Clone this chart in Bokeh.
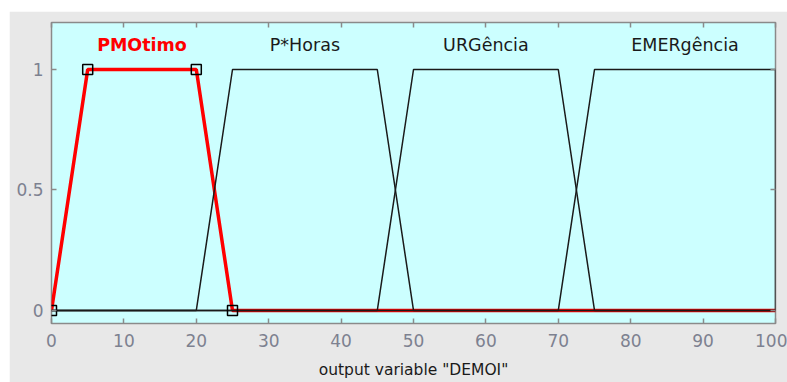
from bokeh.plotting import figure
from bokeh.models import ColumnDataSource, LinearAxis, Range1d, FixedTicker
from bokeh.core.properties import value
from bokeh.embed import file_html
from bokeh.resources import INLINE

# Membership functions of the output variable (trapezoids a, b, c, d)
mf_names = ["PMOtimo", "P*Horas", "URGência", "EMERgência"]
mf_a = [0, 20, 45, 70]
mf_b = [5, 25, 50, 75]
mf_c = [20, 45, 70, 100]
mf_d = [25, 50, 75, 100]
selected = 0  # highlighted function

x_ticks = [0, 10, 20, 30, 40, 50, 60, 70, 80, 90, 100]
y_ticks = [0, 0.5, 1]
x_min, x_max = 0, 100

FONT = "DejaVu Sans"
TICK_COLOR = "#7d8190"
FRAME_COLOR = "#8a8a8a"

p = figure(width=778, height=371, output_backend="svg", toolbar_location=None,
           x_range=Range1d(x_min, x_max), y_range=Range1d(-0.054, 1.195),
           min_border_left=42, min_border_right=12, min_border_top=11, min_border_bottom=59,
           background_fill_color="#ccffff", border_fill_color="#e8e8e8",
           outline_line_color=FRAME_COLOR, outline_line_width=1.5,
           x_axis_location=None, y_axis_location=None, margin=(11, 0, 0, 9))
p.grid.visible = False


def style_axis(ax, ticks, labels=True):
    ax.ticker = FixedTicker(ticks=ticks)
    ax.axis_line_color = None
    ax.major_tick_line_color = FRAME_COLOR
    ax.major_tick_line_width = 1.5
    ax.major_tick_in = 5
    ax.major_tick_out = 0
    ax.minor_tick_line_color = None
    ax.major_label_text_font = FONT
    ax.major_label_text_font_size = "17px"
    ax.major_label_text_color = TICK_COLOR
    if not labels:
        # tick marks only on the mirrored sides of the box
        ax.major_label_text_color = None
        ax.major_label_standoff = 0


bottom = LinearAxis(axis_label='output variable "DEMOI"')
style_axis(bottom, x_ticks)
bottom.major_label_standoff = 10
bottom.axis_label_standoff = 11
bottom.axis_label_text_font = FONT
bottom.axis_label_text_font_size = "15.5px"
bottom.axis_label_text_font_style = "normal"
bottom.axis_label_text_color = "#1a1a1a"
p.add_layout(bottom, "below")

left = LinearAxis()
style_axis(left, y_ticks)
left.major_label_standoff = 8
left.major_label_overrides = {0: "0", 0.5: "0.5", 1: "1"}
p.add_layout(left, "left")

top = LinearAxis()
style_axis(top, x_ticks, labels=False)
p.add_layout(top, "above")

right = LinearAxis()
style_axis(right, y_ticks, labels=False)
p.add_layout(right, "right")

# Polylines across the full universe of discourse
xs_all, ys_all = [], []
for a, b, c, d in zip(mf_a, mf_b, mf_c, mf_d):
    xs = [x_min, a, b, c, d, x_max]
    ys = [0, 0, 1, 1, 0, 0]
    xs_all.append(xs)
    ys_all.append(ys)

# highlighted function in red, drawn with its vertices marked
sx, sy = xs_all[selected], ys_all[selected]
p.line(sx, sy, line_color="#ff0000", line_width=3.5)

for i in range(len(mf_names)):
    if i != selected:
        p.line(xs_all[i], ys_all[i], line_color="#1a1a1a", line_width=1.5)

p.line([x_min, mf_a[selected]], [0, 0], line_color="#1a1a1a", line_width=1.5)

vx = [mf_a[selected], mf_b[selected], mf_c[selected], mf_d[selected]]
vy = [0, 1, 1, 0]
p.scatter(vx, vy, marker="square", size=10, fill_color=None,
          line_color="#000000", line_width=1.5)

# function names over each plateau
label_src = ColumnDataSource(dict(
    x=[(b + c) / 2 for b, c in zip(mf_b, mf_c)],
    y=[1.1] * len(mf_names),
    text=mf_names,
    color=["#ff0000" if i == selected else "#1a1a1a" for i in range(len(mf_names))],
    style=["bold" if i == selected else "normal" for i in range(len(mf_names))],
))
p.text(x="x", y="y", text="text", source=label_src, text_color="color",
       text_font_style="style", text_font=value(FONT), text_font_size="17.5px",
       text_align="center", text_baseline="middle")

open("out.html", "w").write(file_html(p, INLINE))
